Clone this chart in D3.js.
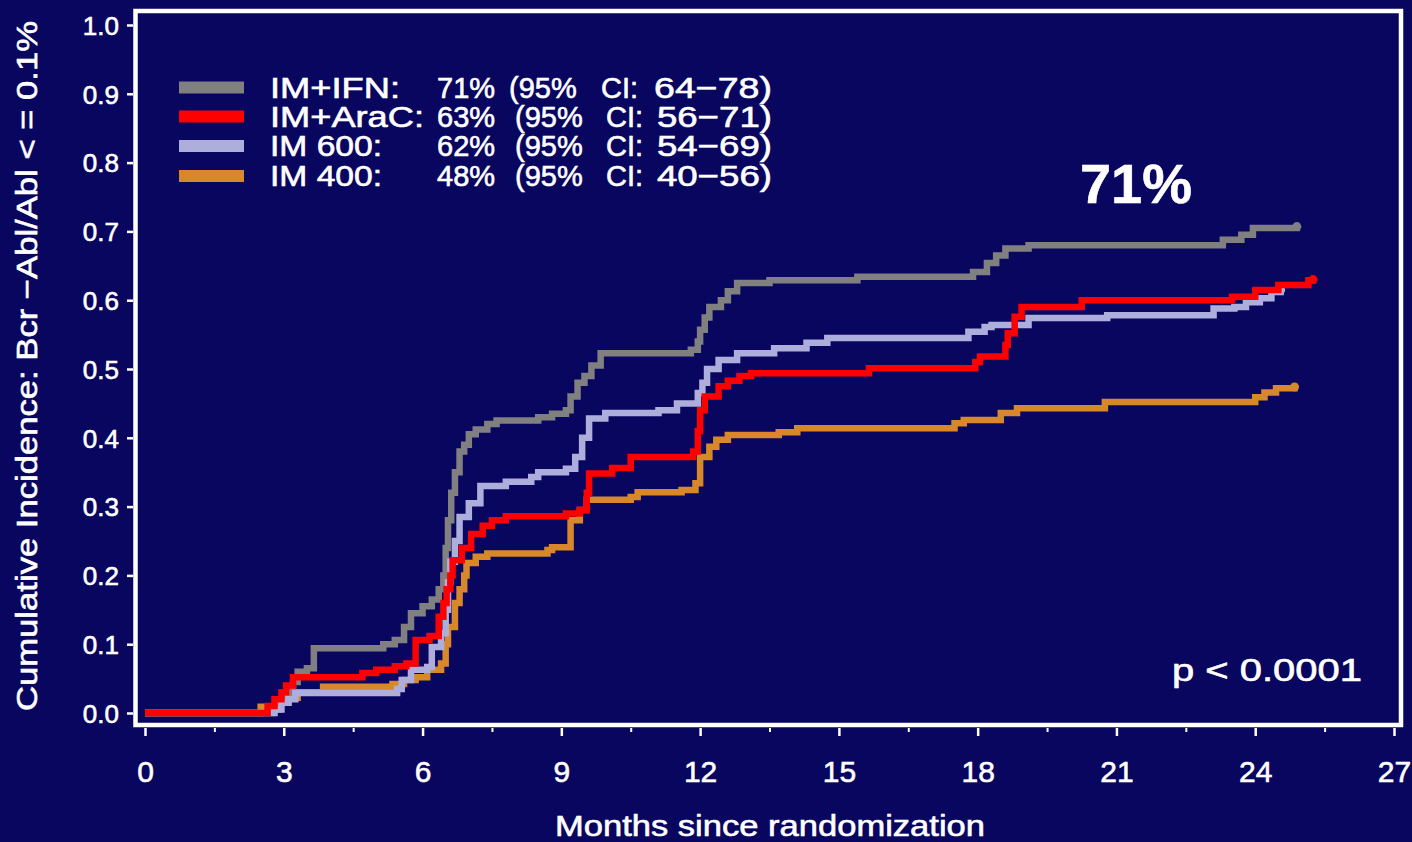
<!DOCTYPE html>
<html>
<head>
<meta charset="utf-8">
<script src="https://cdn.jsdelivr.net/npm/d3@7"></script>
<style>
  body { margin: 0; background: #090660; }
  svg { display: block; }
  text { font-family: "Liberation Sans", Arial, sans-serif; fill: #ffffff; stroke: #ffffff; stroke-width: 0.6px; }
</style>
</head>
<body>
<div id="chart"></div>
<script>
// chart data: [month, cumulative incidence] (step after)
var seriesNames = ["IM+IFN:", "IM+AraC:", "IM  600:", "IM  400:"];
var seriesPct = ["71%", "63%", "62%", "48%"];
var seriesCI = ["64\u221278)", "56\u221271)", "54\u221269)", "40\u221256)"];
var seriesColors = ["#808080", "#ff0000", "#aeaedc", "#d8882b"];

var imIfn = [[0,0],[2.75,0.005],[2.9,0.015],[3.05,0.03],[3.2,0.045],[3.3,0.06],[3.5,0.065],[3.65,0.094],
  [5.15,0.1],[5.4,0.106],[5.6,0.125],[5.75,0.145],[6.0,0.155],[6.2,0.165],[6.35,0.18],[6.45,0.2],[6.5,0.24],
  [6.55,0.28],[6.62,0.32],[6.7,0.35],[6.8,0.38],[6.9,0.39],[7.0,0.405],[7.15,0.412],[7.4,0.42],[7.6,0.425],
  [8.5,0.43],[8.8,0.435],[9.1,0.44],[9.2,0.46],[9.35,0.48],[9.5,0.49],[9.65,0.505],[9.85,0.523],[11.8,0.528],
  [11.95,0.54],[12.0,0.557],[12.1,0.575],[12.2,0.59],[12.45,0.6],[12.6,0.613],[12.8,0.625],[13.5,0.629],
  [15.4,0.634],[17.9,0.641],[18.2,0.654],[18.4,0.665],[18.6,0.675],[19.1,0.68],[23.3,0.688],[23.7,0.695],
  [23.95,0.705],[24.9,0.707]];

var imAraC = [[0,0],[2.65,0.01],[2.8,0.02],[2.95,0.03],[3.05,0.04],[3.2,0.052],[4.7,0.058],[5.0,0.063],
  [5.4,0.068],[5.65,0.072],[5.85,0.106],[6.15,0.112],[6.35,0.14],[6.45,0.16],[6.52,0.18],[6.6,0.2],[6.65,0.222],
  [6.85,0.24],[7.05,0.26],[7.3,0.272],[7.5,0.28],[7.8,0.286],[9.1,0.29],[9.4,0.295],[9.55,0.32],[9.6,0.348],
  [10.1,0.356],[10.5,0.372],[11.85,0.38],[11.95,0.41],[12.0,0.44],[12.1,0.46],[12.4,0.475],[12.6,0.483],
  [12.85,0.49],[13.1,0.494],[15.65,0.501],[17.95,0.51],[18.05,0.518],[18.6,0.535],[18.65,0.552],[18.8,0.576],
  [18.95,0.59],[20.25,0.6],[23.5,0.605],[24.0,0.615],[24.5,0.622],[25.15,0.629],[25.25,0.63]];

var im600 = [[0,0],[2.8,0.005],[2.95,0.015],[3.1,0.02],[3.25,0.029],[5.45,0.035],[5.55,0.048],[5.75,0.063],
  [6.1,0.067],[6.2,0.096],[6.4,0.116],[6.5,0.15],[6.55,0.19],[6.6,0.22],[6.7,0.25],[6.8,0.285],[7.0,0.305],
  [7.25,0.33],[7.8,0.336],[8.35,0.343],[8.5,0.35],[9.1,0.355],[9.3,0.372],[9.45,0.4],[9.6,0.428],[9.95,0.436],
  [11.1,0.44],[11.5,0.45],[11.95,0.465],[12.05,0.48],[12.15,0.5],[12.4,0.513],[12.8,0.523],[13.6,0.53],
  [14.3,0.538],[14.75,0.545],[17.8,0.554],[18.15,0.561],[18.3,0.564],[19.1,0.574],[20.8,0.578],[23.1,0.588],
  [23.55,0.59],[23.8,0.597],[24.1,0.603],[24.35,0.612],[24.55,0.615]];

var im400 = [[0,0],[2.5,0.009],[2.9,0.015],[3.1,0.022],[3.3,0.03],[3.85,0.038],[5.35,0.042],[5.6,0.048],
  [5.85,0.052],[6.1,0.063],[6.4,0.072],[6.5,0.1],[6.55,0.125],[6.7,0.16],[6.8,0.18],[6.9,0.2],[6.95,0.218],
  [7.15,0.227],[7.4,0.232],[8.7,0.237],[8.8,0.241],[9.2,0.28],[9.4,0.295],[9.55,0.31],[10.5,0.314],
  [10.65,0.321],[11.6,0.324],[11.9,0.334],[12.0,0.372],[12.2,0.387],[12.35,0.397],[12.6,0.404],[13.7,0.408],
  [14.1,0.414],[17.5,0.421],[17.7,0.426],[18.5,0.436],[18.85,0.443],[20.75,0.452],[24.0,0.459],[24.2,0.466],
  [24.45,0.472],[24.85,0.474]];

var yTicks = [0, 0.1, 0.2, 0.3, 0.4, 0.5, 0.6, 0.7, 0.8, 0.9, 1.0];
var xTicks = [0, 3, 6, 9, 12, 15, 18, 21, 24, 27];
var xMinorTicks = [1.5, 4.5, 7.5, 10.5, 13.5, 16.5, 19.5, 22.5, 25.5];

// set up svg
var svgWidth = 1412;
var svgHeight = 842;

var svg = d3.select("#chart")
  .append("svg")
  .attr("width", svgWidth)
  .attr("height", svgHeight);

svg.append("rect")
  .attr("width", svgWidth)
  .attr("height", svgHeight)
  .attr("fill", "#090660");

// scales
var xScale = d3.scaleLinear().domain([0, 27]).range([145, 1394]);
var yScale = d3.scaleLinear().domain([0, 1]).range([713, 25]);

// frame
svg.append("rect")
  .attr("x", 135.5)
  .attr("y", 11)
  .attr("width", 1401 - 135.5)
  .attr("height", 725 - 11)
  .attr("fill", "none")
  .attr("stroke", "#ffffff")
  .attr("stroke-width", 4.5);

// y axis
var leftAxis = d3.axisLeft(yScale)
  .tickValues(yTicks)
  .tickFormat(d3.format(".1f"))
  .tickSize(6)
  .tickPadding(8);

var yAxisG = svg.append("g")
  .attr("transform", "translate(133,0)")
  .call(leftAxis);
yAxisG.select(".domain").remove();
yAxisG.selectAll("line").attr("stroke", "#ffffff").attr("stroke-width", 2.5);
yAxisG.selectAll("text")
  .attr("fill", "#ffffff")
  .style("font-size", "26px")
  .attr("dy", "0.36em");

// x axis: major + minor ticks
var bottomAxis = d3.axisBottom(xScale)
  .tickValues(xTicks)
  .tickFormat(d3.format("d"))
  .tickSize(8)
  .tickPadding(25);

var xAxisG = svg.append("g")
  .attr("transform", "translate(0,728)")
  .call(bottomAxis);
xAxisG.select(".domain").remove();
xAxisG.selectAll("line").attr("stroke", "#ffffff").attr("stroke-width", 2.5);
xAxisG.selectAll("text")
  .attr("fill", "#ffffff")
  .style("font-size", "30px");

var minorAxis = d3.axisBottom(xScale)
  .tickValues(xMinorTicks)
  .tickFormat("")
  .tickSize(4);

var xMinorG = svg.append("g")
  .attr("transform", "translate(0,728)")
  .call(minorAxis);
xMinorG.select(".domain").remove();
xMinorG.selectAll("line").attr("stroke", "#ffffff").attr("stroke-width", 2);

// axis labels
svg.append("text")
  .attr("transform", "translate(37,366) rotate(-90)")
  .attr("text-anchor", "middle")
  .attr("textLength", 690)
  .attr("lengthAdjust", "spacingAndGlyphs")
  .style("font-size", "29px")
  .text("Cumulative Incidence:  Bcr \u2212Abl/Abl  < = 0.1%");

svg.append("text")
  .attr("x", 555)
  .attr("y", 836)
  .attr("textLength", 430)
  .attr("lengthAdjust", "spacingAndGlyphs")
  .style("font-size", "30px")
  .text("Months since randomization");

// curves, drawn bottom to top
var line = d3.line()
  .x(d => xScale(d[0]))
  .y(d => yScale(d[1]))
  .curve(d3.curveStepAfter);

var allSeries = [imIfn, imAraC, im600, im400];
var drawOrder = [3, 0, 2, 1];

drawOrder.forEach(function(i) {
  svg.append("path")
    .datum(allSeries[i])
    .attr("d", line)
    .attr("fill", "none")
    .attr("stroke", seriesColors[i])
    .attr("stroke-width", 6.5)
    .attr("stroke-linejoin", "miter");

  var last = allSeries[i][allSeries[i].length - 1];
  svg.append("circle")
    .attr("cx", xScale(last[0]))
    .attr("cy", yScale(last[1]))
    .attr("r", 4.5)
    .attr("fill", seriesColors[i]);
});

// legend
var legendRows = [87.5, 116.5, 146, 176];
legendRows.forEach(function(y, i) {
  svg.append("rect")
    .attr("x", 179)
    .attr("y", y - 6)
    .attr("width", 65)
    .attr("height", 12)
    .attr("fill", seriesColors[i]);

  var base = y + 10;
  svg.append("text").attr("x", 270).attr("y", base)
    .attr("textLength", i === 1 ? 154 : (i === 0 ? 130 : 112))
    .attr("lengthAdjust", "spacingAndGlyphs")
    .style("font-size", "29px").text(seriesNames[i]);
  svg.append("text").attr("x", 437).attr("y", base)
    .style("font-size", "29px").text(seriesPct[i]);
  svg.append("text").attr("x", i === 0 ? 509 : 515).attr("y", base)
    .style("font-size", "29px").text("(95%");
  svg.append("text").attr("x", i === 0 ? 601 : 606).attr("y", base)
    .style("font-size", "29px").text("CI:");
  svg.append("text").attr("x", i === 0 ? 654 : 657).attr("y", base)
    .attr("textLength", i === 0 ? 118 : 115)
    .attr("lengthAdjust", "spacingAndGlyphs")
    .style("font-size", "29px").text(seriesCI[i]);
});

// annotations
svg.append("text")
  .attr("x", 1080)
  .attr("y", 203)
  .attr("textLength", 112)
  .attr("lengthAdjust", "spacingAndGlyphs")
  .style("font-size", "55px")
  .style("font-weight", "bold")
  .text("71%");

svg.append("text")
  .attr("x", 1172)
  .attr("y", 681)
  .attr("textLength", 190)
  .attr("lengthAdjust", "spacingAndGlyphs")
  .style("font-size", "31px")
  .text("p <  0.0001");
</script>
</body>
</html>
